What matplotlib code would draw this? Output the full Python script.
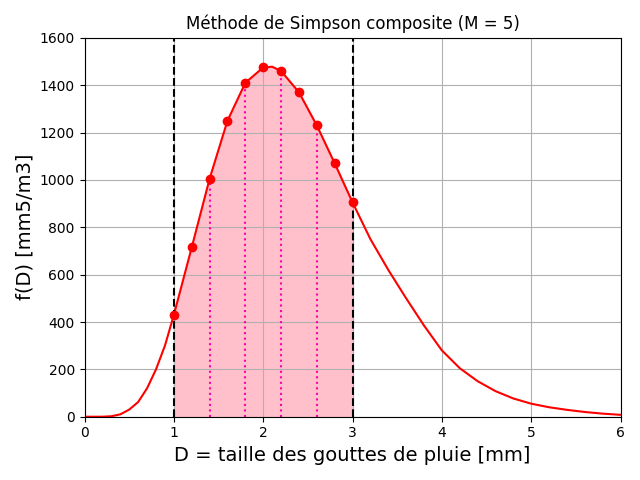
import matplotlib
matplotlib.use("Agg")
import matplotlib.pyplot as plt

# curve values
curve_x = [0, 0.2, 0.3, 0.4, 0.5, 0.6, 0.7, 0.8, 0.9, 1.0, 1.2, 1.4, 1.6, 1.8, 2.0, 2.1, 2.2, 2.4, 2.6, 2.8, 3.0,
           3.2, 3.4, 3.6, 3.8, 4.0, 4.2, 4.4, 4.6, 4.8, 5.0, 5.2, 5.4, 5.6, 5.8, 6.0]
curve_y = [0, 0, 2, 10, 30, 62, 120, 200, 300, 430, 715, 1005, 1250, 1410, 1475, 1478, 1460, 1370, 1230, 1070, 905,
           750, 620, 500, 385, 280, 205, 150, 108, 77, 55, 40, 29, 20, 13, 8]
# Simpson nodes
nodes_x = [1.0, 1.2, 1.4, 1.6, 1.8, 2.0, 2.2, 2.4, 2.6, 2.8, 3.0]
nodes_y = [430, 715, 1005, 1250, 1410, 1475, 1460, 1370, 1230, 1070, 905]
inner_x = [1.4, 1.8, 2.2, 2.6]
inner_y = [1005, 1410, 1460, 1230]

fig, ax = plt.subplots(figsize=(6.4, 4.8), dpi=100)
fx = [x for x in curve_x if 1.0 <= x <= 3.0]
fy = [y for x, y in zip(curve_x, curve_y) if 1.0 <= x <= 3.0]
ax.fill_between(fx, 0, fy, color='pink')
ax.plot(curve_x, curve_y, color='red')
ax.vlines(inner_x, 0, inner_y, colors='#ff00aa', linestyles=':', linewidth=1.5)
ax.axvline(1.0, color='black', linestyle='--')
ax.axvline(3.0, color='black', linestyle='--')
ax.plot(nodes_x, nodes_y, 'o', color='red')
ax.set_xlim(0, 6)
ax.set_ylim(0, 1600)
ax.grid(True)
ax.set_title('Méthode de Simpson composite (M = 5)')
ax.set_xlabel('D = taille des gouttes de pluie [mm]', fontsize=14)
ax.set_ylabel('f(D) [mm5/m3]', fontsize=14)
fig.tight_layout()
fig.savefig('out.png')
